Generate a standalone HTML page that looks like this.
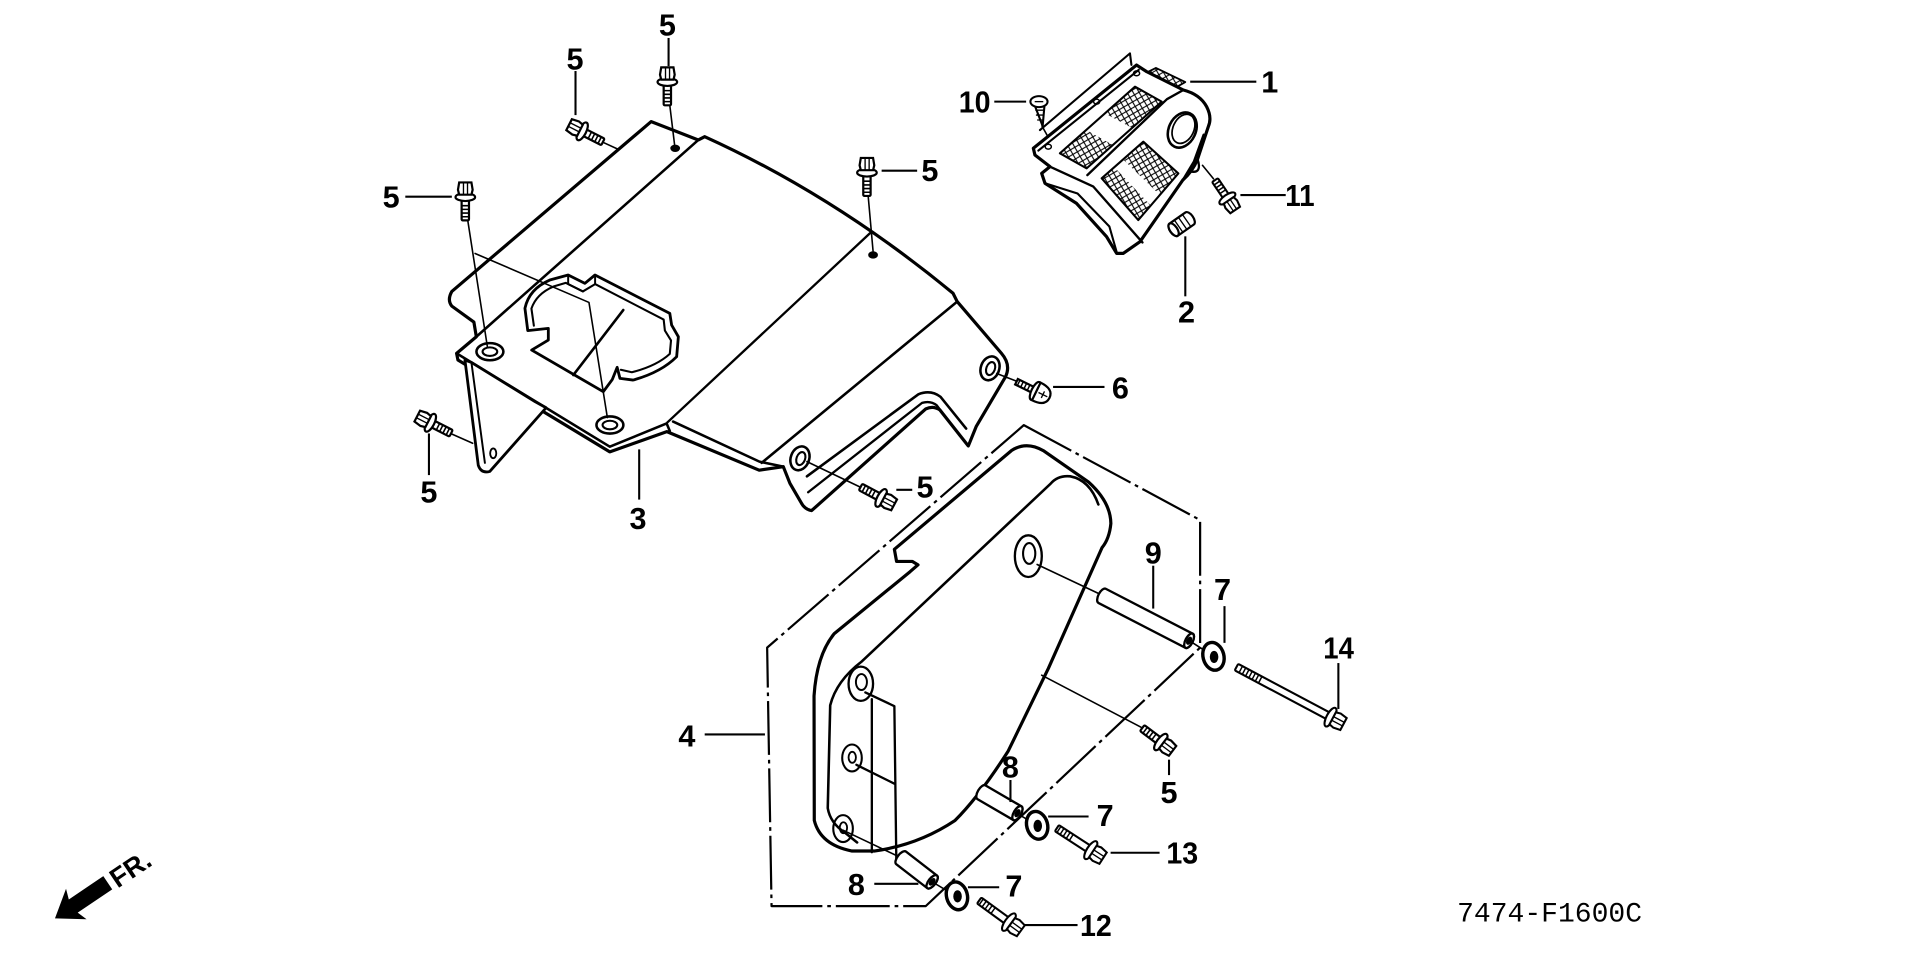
<!DOCTYPE html>
<html><head><meta charset="utf-8"><style>
html,body{margin:0;padding:0;background:#fff;}
svg{display:block;}
text{font-family:"Liberation Sans",Arial,sans-serif;font-weight:bold;font-size:25px;fill:#000;}
</style></head><body>
<svg width="1920" height="958" viewBox="0 0 1568 782.37" preserveAspectRatio="none" xmlns="http://www.w3.org/2000/svg">
<defs>
<pattern id="mesh" patternUnits="userSpaceOnUse" width="6" height="6" patternTransform="rotate(15)">
<path d="M0,0 L6,6 M6,0 L0,6" stroke="#000" stroke-width="0.9"/>
</pattern>
<g id="b5" fill="#fff" stroke="#000" stroke-width="1.8">
<rect x="-3" y="6" width="6" height="18" rx="1"/>
<path d="M-3,12h6M-3,15h6M-3,18h6M-3,21h6" stroke-width="1.3"/>
<ellipse cx="0" cy="5" rx="8" ry="3.2"/>
<path d="M-5,-7 L5,-7 L6,-1 L5,3 L-5,3 L-6,-1 Z"/>
<path d="M-1.5,-7 V3 M1.8,-7 V3" stroke-width="1.1"/>
</g>
</defs>
<rect width="1568" height="782.37" fill="#fff"/>

<!-- ============ COVER 3 ============ -->
<g fill="none" stroke="#000" stroke-linejoin="round" stroke-linecap="round">
<path stroke-width="2.6" fill="#fff" d="M531.8,99.3 L570.3,114.3 L575.5,111.6 Q682,160 778.3,239.5 L781.7,246.3 L817.8,288.5 Q826,298 821,308 L797.2,348.4 L790.8,364.2 L767.6,334.8 Q762,331 756,334 L662.8,417 Q657,416 654,410 L645.1,394.7 L639.7,381.1 L620,384 L544.6,352.5 L498,369 L374,294 L372.9,288.6 L389,275 L387,263 L369,250 Q365,245 369,238 Z"/>
<path stroke-width="2.1" d="M570.3,114.3 L389,275"/>
<path stroke-width="2.1" d="M372.9,288.6 L498,364.8 L544.4,345.8 L547,352"/>
<path stroke-width="1.9" d="M711,190 L545,345"/>
<path stroke-width="2.1" d="M781.7,246.3 L622,378"/>
<path stroke-width="2.1" d="M549.7,344.3 L620.2,377 L639.7,381.1"/>
<!-- bracket under plate -->
<path stroke-width="2.3" fill="#fff" d="M379.7,294 L390.6,380 Q393,387 400,385 L446,333 L437,328 L385,296 Z"/>
<path stroke-width="1.6" d="M385,296 L396,378"/>
<ellipse cx="402.8" cy="370.2" rx="2.5" ry="4" stroke-width="1.5"/>
<!-- rib on skirt -->
<path stroke-width="2.1" d="M789,350 L768,324 Q760,318 750,322 L659,389"/>
<path stroke-width="1.9" d="M784,356 L765,331 Q760,327 753,329 L660,402"/>
<!-- holes -->
<ellipse cx="551.4" cy="121.1" rx="3.5" ry="2.5" fill="#000" stroke-width="1"/>
<ellipse cx="713" cy="208.2" rx="3.5" ry="2.5" fill="#000" stroke-width="1"/>
<ellipse cx="400.1" cy="287.2" rx="11" ry="7" stroke-width="2.1"/>
<ellipse cx="400.1" cy="287.2" rx="6" ry="3.5" stroke-width="1.7"/>
<ellipse cx="498.1" cy="347.1" rx="11" ry="7" stroke-width="2.1"/>
<ellipse cx="498.1" cy="347.1" rx="6" ry="3.5" stroke-width="1.7"/>
<ellipse cx="653.3" cy="374.3" rx="7.5" ry="10" stroke-width="2.1" transform="rotate(20 653.3 374.3)"/>
<ellipse cx="654" cy="374.5" rx="3.5" ry="5.5" stroke-width="1.7" transform="rotate(20 654 374.5)"/>
<ellipse cx="808.5" cy="300.8" rx="7.5" ry="10" stroke-width="2.1" transform="rotate(20 808.5 300.8)"/>
<ellipse cx="809" cy="301" rx="3.5" ry="5.5" stroke-width="1.7" transform="rotate(20 809 301)"/>
<!-- cutout -->
<path stroke-width="2.3" fill="#fff" d="M431,270 L428.7,251.8 Q432,236 449,228.7 L464,224.6 L477.7,231.4 L485.9,224.6 L547,255.9 L548.5,265.5 L554,275 L552.6,291.3 Q540,304 517,310.4 L506.3,309 L504,300 L500,310 L492.7,319.9 L434.2,285.9 L447.8,277.7 L447.8,268.2 Z"/>
<path stroke-width="1.7" d="M436,266 L434,252 Q438,240 452,234 L462,231 L476,238 L486,232 L542,261 L543,270 L548,278 L547,289 Q536,299 516,304 L507,302"/>
<path stroke-width="1.6" d="M464,225 L464,232 L476,238 M486,225 L486,232"/>
<path stroke-width="2.1" d="M468.2,306.3 L509,253.2"/>
<!-- thin leaders -->
<g stroke-width="1.3">
<path d="M547,86 L551,119"/>
<path d="M492,116 L505,122"/>
<path d="M382,180 L398,283"/>
<path d="M709,160 L713,205"/>
<path d="M368,354 L386,362"/>
<path d="M703,398 L659,377"/>
<path d="M814,305 L832,312"/>
<path d="M388,207 L481,247 L496,341"/>
</g>
</g>

<!-- bolts cover 3 -->
<use href="#b5" transform="translate(545,62)"/>
<use href="#b5" transform="translate(471,105) rotate(-63)"/>
<use href="#b5" transform="translate(380,156)"/>
<use href="#b5" transform="translate(708,136)"/>
<use href="#b5" transform="translate(347,343) rotate(-63)"/>
<use href="#b5" transform="translate(724,409) rotate(118)"/>
<!-- bolt 6 clip -->
<g transform="translate(849,321) rotate(116)" fill="#fff" stroke="#000" stroke-width="1.8">
<rect x="-2.5" y="5" width="5" height="16"/>
<path d="M-2.5,10h5M-2.5,13h5M-2.5,16h5M-2.5,19h5" stroke-width="1.2"/>
<ellipse cx="0" cy="4" rx="8" ry="3"/>
<path d="M-8,3 Q-8,-9 0,-9 Q8,-9 8,3 Z"/>
<path d="M0,-7 V1 M-3,-3 H3" stroke-width="1.1"/>
</g>

<!-- ============ PART 1 ============ -->
<g fill="none" stroke="#000" stroke-linejoin="round" stroke-linecap="round">
<path stroke-width="2.6" fill="#fff" d="M843.9,121.1 L928.2,53.1 L936.4,58.5 L966.4,73.5 Q980,77 985.4,87.1 Q990,96 986.8,103.4 L978,130 Q974,140 966,147 L931,197.4 L917.4,206.9 L911.9,206.9 L903.7,193.3 L879.2,166.1 L853.4,149.7 L850.7,141.6 L857.5,136.1 L845.2,126.6 Z"/>
<path stroke-width="1.7" d="M848,123 L930,57"/>
<path stroke-width="1.7" d="M922.8,43.6 L849.3,106.2 M922.8,43.6 L924,53"/>
<path stroke-width="1.9" d="M857.5,136.1 L892.9,152.4 L933,198"/>
<path stroke-width="1.9" d="M888,143 L953,81 L966.4,73.5"/>
<path stroke-width="1.7" d="M853.4,149.7 L880,158 L906,185 L912,206"/>
<path stroke-width="1.9" d="M966,147 L975,132 L983,110"/>
<path stroke-width="1.9" d="M972,140 Q982,142 978,130"/>
<!-- meshes (partially hatched) -->
<polygon points="902.4,92.6 926.9,70.8 948.7,83 924.2,104.3" fill="url(#mesh)" stroke="none"/>
<polygon points="865.6,125.2 887.1,106.2 908.9,118.4 887.4,137.5" fill="url(#mesh)" stroke="none"/>
<polygon points="865.6,125.2 926.9,70.8 948.7,83 887.4,137.5" stroke-width="1.7"/>
<polygon points="918,131 933.7,115.7 962.3,141.6 947,159" fill="url(#mesh)" stroke="none"/>
<polygon points="899.7,145.6 910,136.5 940,168 929.6,179.7" fill="url(#mesh)" stroke="none"/>
<polygon points="899.7,145.6 933.7,115.7 962.3,141.6 929.6,179.7" stroke-width="1.7"/>
<polygon points="937,59 944,55.5 968,67 961,71" fill="url(#mesh)" stroke-width="1.5"/>
<ellipse cx="965.5" cy="106.2" rx="11" ry="15" transform="rotate(25 965.5 106.2)" stroke-width="2.1" fill="#fff"/>
<ellipse cx="966.5" cy="105.2" rx="8.5" ry="12.5" transform="rotate(25 966.5 105.2)" stroke-width="1.4"/>
<ellipse cx="928.2" cy="59.9" rx="2.5" ry="2" stroke-width="1.2"/>
<ellipse cx="895.6" cy="83" rx="2.5" ry="2" stroke-width="1.2"/>
<ellipse cx="856.1" cy="119.8" rx="2.5" ry="2" stroke-width="1.2"/>
<path stroke-width="1.3" d="M851,103 L856,112"/>
<path stroke-width="1.3" d="M991,146 L982,135"/>
</g>
<!-- screw 10 -->
<g fill="#fff" stroke="#000" stroke-width="1.7">
<path d="M845,86 L853,86 L851.5,103 Z"/>
<path d="M845.5,90 l7,0 M846,94 l6,0 M847,98 l5,0" stroke-width="1.1"/>
<ellipse cx="848.5" cy="83" rx="7" ry="4.5"/>
<path d="M845,83 l7,0" stroke-width="1.1"/>
</g>
<!-- bolt 11 -->
<use href="#b5" transform="translate(1005,166) rotate(146) scale(0.95)"/>
<!-- nut 2 -->
<g transform="translate(965,183) rotate(-35)" fill="#fff" stroke="#000" stroke-width="1.8">
<path d="M-8,-6 H8 A3,6 0 0 1 8,6 H-8 A3,6 0 0 1 -8,-6 Z"/>
<path d="M-3,-6 V6 M1,-6 V6 M5,-6 V6" stroke-width="1.1"/>
<ellipse cx="-8" cy="0" rx="3" ry="6"/>
</g>

<!-- ============ PART 4 ============ -->
<g fill="none" stroke="#000" stroke-linejoin="round" stroke-linecap="round">
<!-- dashed group outline -->
<path stroke-width="1.8" stroke-linecap="butt" stroke-dasharray="44 4 3 4" d="M836.1,347.2 L980.1,424.7 L980.1,528.9 L756,740 L630.1,740 L626.5,528.9 Z"/>
<!-- cover 4 -->
<path stroke-width="2.6" fill="#fff" d="M730.4,448.6 L826,368 Q838,360 852,368 L889,393.7 Q907,410 907.2,427.5 Q906,440 900,447.2 L856.2,545.8 L823.4,613.3 Q800,650 780,670 Q750,690 714,695 L695.8,695 Q670,690 665,670 L664.8,568.3 Q667,535 681.2,517.6 L743.2,466.9 L749.7,461.3 L745,458.5 L732.2,458.5 Z"/>
<path stroke-width="2.1" d="M897,412 Q890,392 874,389 Q864,388 858,395 L704,540 Q683,556 678,576 L676,660 Q678,672 690,680 L700,688"/>
<path stroke-width="1.9" d="M706.7,565.5 L730.4,576.7 L732,703.5"/>
<path stroke-width="1.9" d="M712,571 L712,696"/>
<path stroke-width="1.9" d="M699.4,624.6 L730.4,640"/>
<ellipse cx="839.8" cy="454.2" rx="11" ry="17" stroke-width="1.9"/>
<ellipse cx="840.5" cy="452" rx="5" ry="8.5" stroke-width="1.7"/>
<ellipse cx="703" cy="558.4" rx="10" ry="14" stroke-width="1.9"/>
<ellipse cx="703.5" cy="557" rx="4.5" ry="6.5" stroke-width="1.6"/>
<ellipse cx="695.8" cy="619" rx="8" ry="11" stroke-width="1.7"/>
<ellipse cx="696" cy="618.5" rx="3" ry="4.5" stroke-width="1.5"/>
<ellipse cx="688.5" cy="676.7" rx="8" ry="11" stroke-width="1.7"/>
<ellipse cx="688.8" cy="676" rx="3" ry="4.5" stroke-width="1.5"/>
<!-- thin leaders -->
<g stroke-width="1.3">
<path d="M847,461 L900,486"/>
<path d="M971,523 L985,532"/>
<path d="M850.7,551.4 L932,594"/>
<path d="M688.5,678 L737,701"/>
<path d="M830,664 L842,671"/>
<path d="M761,720 L776,729"/>
</g>
</g>
<!-- pin 9 -->
<g transform="translate(900,486.6) rotate(27.3)" fill="#fff" stroke="#000" stroke-width="1.9">
<path d="M0,-6.5 H80 A3,6.5 0 0 1 80,6.5 H0 A3,6.5 0 0 1 0,-6.5 Z"/>
<ellipse cx="80" cy="0" rx="3" ry="6.5"/>
<ellipse cx="80" cy="0" rx="1.2" ry="2.6" fill="#000"/>
</g>
<!-- collar 8 upper -->
<g transform="translate(801.5,647) rotate(30.2)" fill="#fff" stroke="#000" stroke-width="1.9">
<path d="M0,-6.5 H34 A3,6.5 0 0 1 34,6.5 H0 A3,6.5 0 0 1 0,-6.5 Z"/>
<ellipse cx="34" cy="0" rx="3" ry="6.5"/>
<ellipse cx="34" cy="0" rx="1.2" ry="2.6" fill="#000"/>
</g>
<!-- collar 8 lower -->
<g transform="translate(735.9,700.6) rotate(37.7)" fill="#fff" stroke="#000" stroke-width="1.9">
<path d="M0,-6.5 H32 A3,6.5 0 0 1 32,6.5 H0 A3,6.5 0 0 1 0,-6.5 Z"/>
<ellipse cx="32" cy="0" rx="3" ry="6.5"/>
<ellipse cx="32" cy="0" rx="1.2" ry="2.6" fill="#000"/>
</g>
<!-- washers 7 -->
<g fill="#fff" stroke="#000">
<ellipse cx="991" cy="536" rx="8.5" ry="11.5" stroke-width="2.8" transform="rotate(-15 991 536)"/>
<ellipse cx="991.5" cy="536.5" rx="3" ry="4.5" fill="#000" stroke-width="1"/>
<ellipse cx="847" cy="674" rx="8.5" ry="11.5" stroke-width="2.8" transform="rotate(-15 847 674)"/>
<ellipse cx="847.5" cy="674.5" rx="3" ry="4.5" fill="#000" stroke-width="1"/>
<ellipse cx="781.5" cy="731.6" rx="8.5" ry="11.5" stroke-width="2.8" transform="rotate(-15 781.5 731.6)"/>
<ellipse cx="782" cy="732" rx="3" ry="4.5" fill="#000" stroke-width="1"/>
</g>
<!-- bolt 5 part 4 -->
<use href="#b5" transform="translate(952,609) rotate(127)"/>
<!-- bolt 14 -->
<g transform="translate(1091,588) rotate(118)" fill="#fff" stroke="#000" stroke-width="1.7">
<rect x="-3" y="6" width="6" height="86" rx="1"/>
<path d="M-3,70h6M-3,73h6M-3,76h6M-3,79h6M-3,82h6M-3,85h6M-3,88h6" stroke-width="1.2"/>
<ellipse cx="0" cy="5" rx="8.5" ry="3.2"/>
<path d="M-5.5,-7 L5.5,-7 L6.5,-1 L5.5,3 L-5.5,3 L-6.5,-1 Z"/>
<path d="M-1.5,-7 V3 M1.8,-7 V3" stroke-width="1.1"/>
</g>
<!-- bolt 13 -->
<g transform="translate(895,697) rotate(123)" fill="#fff" stroke="#000" stroke-width="1.7">
<rect x="-3" y="6" width="6" height="32" rx="1"/>
<path d="M-3,24h6M-3,27h6M-3,30h6M-3,33h6M-3,36h6" stroke-width="1.2"/>
<ellipse cx="0" cy="5" rx="8.5" ry="3.2"/>
<path d="M-5.5,-7 L5.5,-7 L6.5,-1 L5.5,3 L-5.5,3 L-6.5,-1 Z"/>
<path d="M-1.5,-7 V3 M1.8,-7 V3" stroke-width="1.1"/>
</g>
<!-- bolt 12 -->
<g transform="translate(828,756) rotate(126)" fill="#fff" stroke="#000" stroke-width="1.7">
<rect x="-3" y="6" width="6" height="29" rx="1"/>
<path d="M-3,21h6M-3,24h6M-3,27h6M-3,30h6M-3,33h6" stroke-width="1.2"/>
<ellipse cx="0" cy="5" rx="8.5" ry="3.2"/>
<path d="M-5.5,-7 L5.5,-7 L6.5,-1 L5.5,3 L-5.5,3 L-6.5,-1 Z"/>
<path d="M-1.5,-7 V3 M1.8,-7 V3" stroke-width="1.1"/>
</g>

<!-- ============ LABEL LEADERS ============ -->
<g stroke="#000" stroke-width="1.7" fill="none">
<path d="M546,31 V54"/>
<path d="M470,58 V94"/>
<path d="M331,160.6 H369"/>
<path d="M720,139.4 H749"/>
<path d="M350.3,354 V388"/>
<path d="M522,367 V408"/>
<path d="M732,400 H745"/>
<path d="M860,316 H902"/>
<path d="M972,66.7 H1026"/>
<path d="M812,83 H838"/>
<path d="M1013,159.3 H1050"/>
<path d="M968,193 V242"/>
<path d="M941.8,462 V497"/>
<path d="M1000,495 V525"/>
<path d="M1093,541.5 V579"/>
<path d="M575.5,599.8 H624.7"/>
<path d="M954.7,620.4 V633"/>
<path d="M825.2,637 V655"/>
<path d="M856,666.8 H889"/>
<path d="M907,696.4 H947"/>
<path d="M714,721.8 H750"/>
<path d="M790.5,724.6 H816"/>
<path d="M836,755.5 H880"/>
</g>

<!-- ============ LABELS ============ -->
<g text-anchor="middle">
<text x="545" y="29">5</text>
<text x="469.6" y="56.6">5</text>
<text x="319.4" y="169.6">5</text>
<text x="759.4" y="147.8">5</text>
<text x="350.3" y="410.5">5</text>
<text x="521" y="432">3</text>
<text x="755.4" y="406.4">5</text>
<text x="915" y="325.5">6</text>
<text x="1037" y="75.7">1</text>
<text x="796" y="92" textLength="26" lengthAdjust="spacingAndGlyphs">10</text>
<text x="1061.6" y="168.3" textLength="24" lengthAdjust="spacingAndGlyphs">11</text>
<text x="969" y="263.5">2</text>
<text x="941.8" y="460.4">9</text>
<text x="998.4" y="490">7</text>
<text x="1093.2" y="537.9" textLength="25" lengthAdjust="spacingAndGlyphs">14</text>
<text x="561" y="609.7">4</text>
<text x="954.7" y="656">5</text>
<text x="825.2" y="635">8</text>
<text x="902.5" y="674.4">7</text>
<text x="965.5" y="705.4" textLength="26" lengthAdjust="spacingAndGlyphs">13</text>
<text x="699.4" y="730.8">8</text>
<text x="828" y="732.2">7</text>
<text x="895" y="764.5" textLength="26" lengthAdjust="spacingAndGlyphs">12</text>
</g>

<!-- FR arrow -->
<g transform="translate(44.9,750) rotate(-34)">
<polygon points="0,0 21,-15 18,-6.5 52,-6.5 52,6.5 18,6.5 21,15" fill="#000"/>
<text x="56" y="8.5" style="font-size:22px;font-weight:bold;">FR.</text>
</g>

<!-- code -->
<text x="1190" y="752.7" textLength="151" lengthAdjust="spacingAndGlyphs" style="font-family:'Liberation Mono','Courier New',monospace;font-weight:normal;font-size:22.7px;">7474-F1600C</text>
</svg>
</body></html>
